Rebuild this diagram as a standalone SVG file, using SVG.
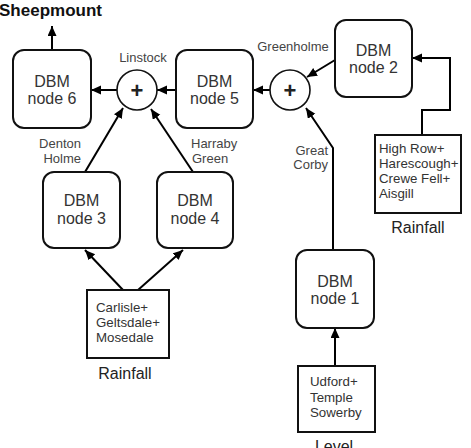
<svg xmlns="http://www.w3.org/2000/svg" width="471" height="448" viewBox="0 0 471 448">
<defs>
<marker id="ah" markerUnits="userSpaceOnUse" markerWidth="11" markerHeight="10" refX="10" refY="4.5" orient="auto">
<path d="M0,0 L10,4.5 L0,9 Z" fill="#000"/>
</marker>
<style>
.node{fill:#fff;stroke:#111;stroke-width:2}
.box{fill:#fff;stroke:#111;stroke-width:2}
.sum{fill:#fff;stroke:#111;stroke-width:1.6}
.nt{font-family:"Liberation Sans",Arial,sans-serif;font-size:16px;fill:#333;text-anchor:middle}
.lb{font-family:"Liberation Sans",Arial,sans-serif;font-size:13px;fill:#444}
.bt{font-family:"Liberation Sans",Arial,sans-serif;font-size:13.3px;fill:#333}
.rf{font-family:"Liberation Sans",Arial,sans-serif;font-size:16px;fill:#222;text-anchor:middle}
.plus{font-family:"Liberation Sans",Arial,sans-serif;font-size:22px;font-weight:bold;fill:#222;text-anchor:middle}
.c{fill:none;stroke:#000;stroke-width:2;marker-end:url(#ah)}
</style>
</defs>
<rect width="471" height="448" fill="#fff"/>
<text x="-1" y="16" font-family="Liberation Sans,Arial,sans-serif" font-size="17" font-weight="bold" fill="#111">Sheepmount</text>
<g id="connectors">
<path class="c" d="M52,50 L52,26"/>
<path class="c" d="M117,90 L91,90"/>
<path class="c" d="M176,90 L157,90"/>
<path class="c" d="M270,90 L253,90"/>
<path class="c" d="M335,60 L307,77"/>
<path class="c" d="M333,250 L333,148 L306,108"/>
<path class="c" d="M85,172 L123,108"/>
<path class="c" d="M193,172 L151,109"/>
<path class="c" d="M123,290 L85,250"/>
<path class="c" d="M138,290 L183,250"/>
<path class="c" d="M335,366 L335,328"/>
<path class="c" d="M422,135 L422,110 L450,110 L450,58 L412,58"/>
</g>
<g id="sum1">
<circle class="sum" cx="137" cy="90" r="20"/>
<text class="plus" x="137" y="98">+</text>
<text class="lb" x="143" y="62" text-anchor="middle">Linstock</text>
</g>
<g id="sum2">
<circle class="sum" cx="290" cy="90" r="20"/>
<text class="plus" x="290" y="98">+</text>
<text class="lb" x="293" y="51" text-anchor="middle">Greenholme</text>
</g>
<g id="node6">
<rect class="node" x="13" y="50" width="78" height="78" rx="11"/>
<text class="nt" x="52" y="87">DBM</text>
<text class="nt" x="52" y="104">node 6</text>
</g>
<g id="node5">
<rect class="node" x="176" y="50" width="77" height="78" rx="11"/>
<text class="nt" x="214.5" y="87">DBM</text>
<text class="nt" x="214.5" y="104">node 5</text>
</g>
<g id="node2">
<rect class="node" x="335" y="20" width="77" height="77" rx="11"/>
<text class="nt" x="373.5" y="56">DBM</text>
<text class="nt" x="373.5" y="73">node 2</text>
</g>
<g id="node3">
<rect class="node" x="43" y="172" width="77" height="76" rx="11"/>
<text class="nt" x="81.5" y="206">DBM</text>
<text class="nt" x="81.5" y="224">node 3</text>
<text class="lb" x="81" y="148" text-anchor="end">Denton</text>
<text class="lb" x="81" y="163" text-anchor="end">Holme</text>
</g>
<g id="node4">
<rect class="node" x="157" y="172" width="76" height="76" rx="11"/>
<text class="nt" x="195" y="206">DBM</text>
<text class="nt" x="195" y="224">node 4</text>
<text class="lb" x="191" y="148">Harraby</text>
<text class="lb" x="192" y="163">Green</text>
</g>
<g id="node1">
<rect class="node" x="296" y="250" width="78" height="78" rx="11"/>
<text class="nt" x="335" y="287">DBM</text>
<text class="nt" x="335" y="304">node 1</text>
<text class="lb" x="328" y="155" text-anchor="end">Great</text>
<text class="lb" x="328" y="169" text-anchor="end">Corby</text>
</g>
<g id="rain2">
<rect class="box" x="375" y="135" width="86" height="78"/>
<text class="bt" x="379" y="153">High Row+</text>
<text class="bt" x="379" y="168">Harescough+</text>
<text class="bt" x="379" y="183">Crewe Fell+</text>
<text class="bt" x="379" y="198">Aisgill</text>
<text class="rf" x="418" y="233">Rainfall</text>
</g>
<g id="rain1">
<rect class="box" x="87" y="290" width="82" height="68"/>
<text class="bt" x="96" y="312">Carlisle+</text>
<text class="bt" x="96" y="327">Geltsdale+</text>
<text class="bt" x="96" y="342">Mosedale</text>
<text class="rf" x="125" y="379">Rainfall</text>
</g>
<g id="level">
<rect class="box" x="298" y="366" width="77" height="66"/>
<text class="bt" x="310" y="386">Udford+</text>
<text class="bt" x="310" y="402">Temple</text>
<text class="bt" x="310" y="417">Sowerby</text>
<text class="rf" x="334" y="452">Level</text>
</g>
</svg>
